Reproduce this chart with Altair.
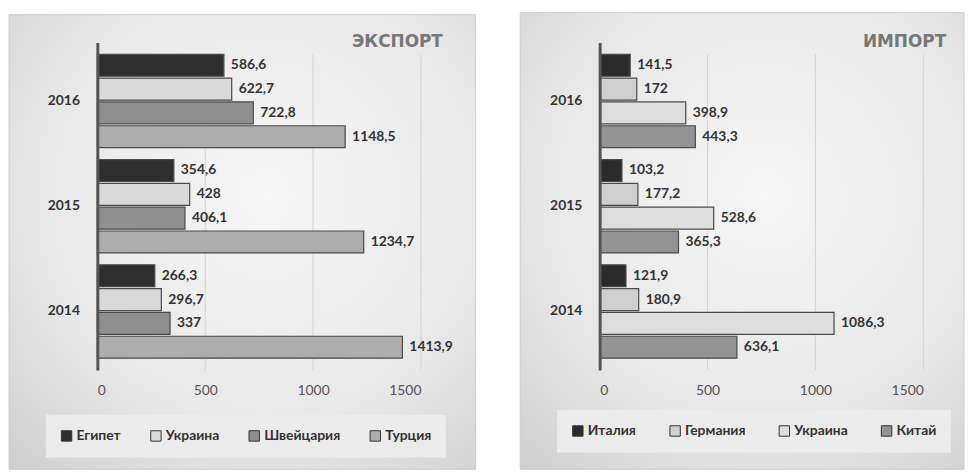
import altair as alt
import pandas as pd

years = ["2016", "2015", "2014"]

export_countries = ["Египет", "Украина", "Швейцария", "Турция"]
export_2016 = [586.6, 622.7, 722.8, 1148.5]
export_2015 = [354.6, 428, 406.1, 1234.7]
export_2014 = [266.3, 296.7, 337, 1413.9]

import_countries = ["Италия", "Германия", "Украина", "Китай"]
import_2016 = [141.5, 172, 398.9, 443.3]
import_2015 = [103.2, 177.2, 528.6, 365.3]
import_2014 = [121.9, 180.9, 1086.3, 636.1]

x_ticks = [0, 500, 1000, 1500]

export_colors = ["#2e2e2e", "#d9d9d9", "#8f8f8f", "#adadad"]
import_colors = ["#2b2b2b", "#cfcfcf", "#dedede", "#939393"]


def fmt(v):
    return f"{v:g}".replace(".", ",")


def make_df(countries, by_year):
    rows = []
    for yr, vals in zip(years, by_year):
        for c, v in zip(countries, vals):
            rows.append({"year": yr, "country": c, "value": v, "label": fmt(v)})
    return pd.DataFrame(rows)


W, H = 326, 330
FONT = "Lato"

bg_fill = {
    "gradient": "radial",
    "x1": 0.55, "y1": 0.4, "r1": 0.0,
    "x2": 0.55, "y2": 0.4, "r2": 0.8,
    "stops": [
        {"offset": 0.0, "color": "#f6f6f6"},
        {"offset": 0.6, "color": "#e8e8e8"},
        {"offset": 1.0, "color": "#cfcfcf"},
    ],
}


def panel(countries, by_year, colors, title, box, title_x, legend_xy, col_pad):
    df = make_df(countries, by_year)
    bx1, bx2, by1, by2 = box

    bg = alt.Chart(pd.DataFrame({"value": [0]})).mark_rect(
        fill=bg_fill, stroke="#cccccc", strokeWidth=1
    ).encode(
        x=alt.value(bx1), x2=alt.value(bx2), y=alt.value(by1), y2=alt.value(by2)
    )

    grid = alt.Chart(pd.DataFrame({"value": x_ticks[1:]})).mark_rule(
        color="#d4d4d4", strokeWidth=1
    ).encode(
        x=alt.X("value:Q"), y=alt.value(12), y2=alt.value(H)
    )

    xenc = alt.X(
        "value:Q",
        scale=alt.Scale(domain=[0, 1500], nice=False, zero=True),
        axis=alt.Axis(
            values=x_ticks, format="d", grid=False, domain=False, ticks=False,
            labelPadding=14, labelFontSize=14, labelColor="#555555",
            labelFont=FONT, title=None, zindex=1,
        ),
    )
    yenc = alt.Y(
        "year:N", sort=years,
        scale=alt.Scale(paddingInner=0.113, paddingOuter=0.113),
        axis=alt.Axis(
            title=None, domainColor="#555555", domainWidth=3, ticks=False,
            labelPadding=18, labelFontSize=14, labelFontWeight="bold",
            labelColor="#333333", labelFont=FONT, zindex=1,
        ),
    )
    yoff = alt.YOffset(
        "country:N", sort=countries,
        scale=alt.Scale(domain=countries, paddingInner=0.08),
    )

    bars = alt.Chart(df).mark_bar(stroke="#4a4a4a", strokeWidth=1.2).encode(
        x=xenc,
        y=yenc,
        yOffset=yoff,
        color=alt.Color(
            "country:N", sort=countries,
            scale=alt.Scale(domain=countries, range=colors),
            legend=alt.Legend(
                orient="none", legendX=legend_xy[0], legendY=legend_xy[1],
                direction="horizontal", title=None, symbolType="square",
                symbolSize=110, symbolStrokeColor="#333333", symbolStrokeWidth=1,
                labelFont=FONT, labelFontSize=14, labelFontWeight="bold",
                labelColor="#333333", columnPadding=col_pad, labelOffset=3,
                fillColor="#ebebeb", padding=14,
            ),
        ),
    )

    labels = alt.Chart(df).mark_text(
        align="left", baseline="middle", dx=7, font=FONT, fontSize=14,
        fontWeight="bold", color="#333333"
    ).encode(
        x=alt.X("value:Q"), y=alt.Y("year:N", sort=years), yOffset=yoff,
        text="label:N",
    )

    ttl = alt.Chart(pd.DataFrame({"t": [title]})).mark_text(
        align="right", baseline="middle", font="DejaVu Sans", fontSize=17,
        fontWeight="bold", color="#777777"
    ).encode(text="t:N", x=alt.value(title_x), y=alt.value(0))

    return alt.layer(bg, grid, bars, labels, ttl).properties(width=W, height=H)


left = panel(
    export_countries, [export_2016, export_2015, export_2014], export_colors,
    "ЭКСПОРТ", (-89, 381, -28, 430), 348, (-52, 375), 27,
)
right = panel(
    import_countries, [import_2016, import_2015, import_2014], import_colors,
    "ИМПОРТ", (-80, 367, -30, 430), 349, (-43, 370), 31,
)

chart = alt.hconcat(left, right, spacing=180, bounds="flush").resolve_scale(
    color="independent", x="independent", y="independent", yOffset="independent"
).properties(
    padding={"left": 0, "top": 2, "right": 0, "bottom": 0},
    background="white",
).configure_view(stroke=None)

chart.save("out.html", embed_options={"renderer": "svg", "actions": False})
